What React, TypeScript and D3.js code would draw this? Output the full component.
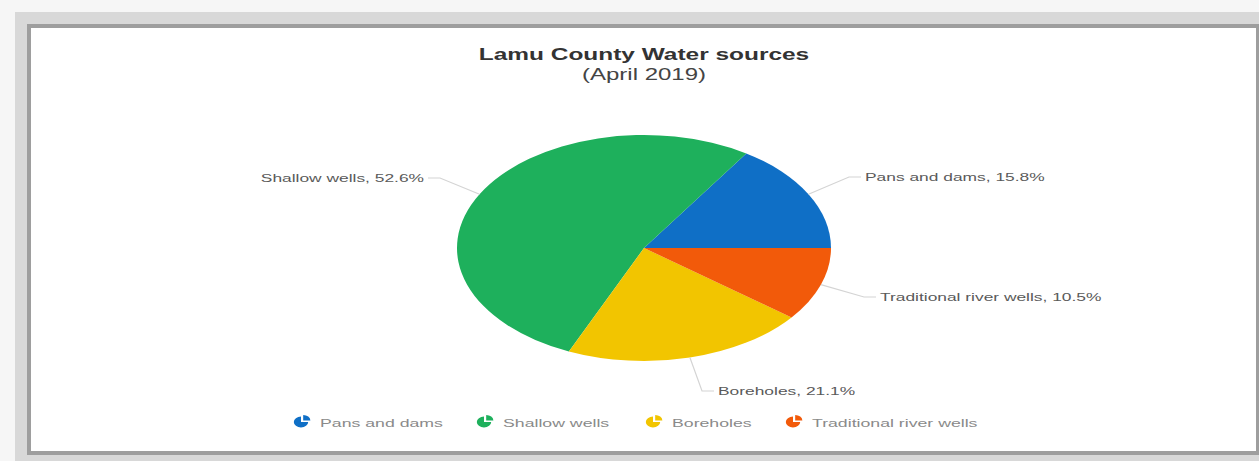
import React from "react";
import * as d3 from "d3";

const categories = ["Pans and dams", "Shallow wells", "Boreholes", "Traditional river wells"];
const counts = [3, 10, 4, 2];
const colors = ["#0f6fc6", "#1eb05c", "#f2c500", "#f25a0a"];
const title = "Lamu County Water sources";
const subtitle = "(April 2019)";

const W = 1259;
const H = 461;
const cx = 644;
const cy = 248;
const rx = 187;
const ry = 113;
const SX = 1.5;
const FONT = "'Liberation Sans', Arial, Helvetica, sans-serif";

// label layout: [x, y, anchor]
const labelPos: [number, number, "start" | "end"][] = [
  [865, 177, "start"],
  [424, 178, "end"],
  [718, 391, "start"],
  [880, 297, "start"],
];
const legendX = [301, 484, 653, 793];
const legendY = 422;

function Stretched({ x, y, anchor, size, weight, fill, children }: any) {
  return (
    <g transform={`translate(${x},${y}) scale(${SX},1)`}>
      <text
        x={0}
        y={0}
        textAnchor={anchor}
        dominantBaseline="central"
        fontSize={size}
        fontWeight={weight}
        fill={fill}
        fontFamily={FONT}
      >
        {children}
      </text>
    </g>
  );
}

export default function App() {
  const total = d3.sum(counts);
  const pie = d3
    .pie<number>()
    .sort(null)
    .startAngle(Math.PI / 2)
    .endAngle(Math.PI / 2 - 2 * Math.PI);
  const arcs = pie(counts);
  const arc = d3.arc<d3.PieArcDatum<number>>().innerRadius(0).outerRadius(rx);
  const k = ry / rx;

  const iconArc = d3.arc<any>().innerRadius(0).outerRadius(6);

  return (
    <svg width={W} height={H} style={{ position: "absolute", left: 0, top: 0 }}>
      <rect x={0} y={0} width={W} height={H} fill="#f6f6f6" />
      <rect x={15} y={12} width={W - 15} height={H - 12} fill="#d8d8d8" />
      <rect x={27} y={24} width={W - 27} height={431} fill="#9e9e9e" />
      <rect x={31} y={28} width={1225} height={423} fill="#ffffff" />

      <Stretched x={cx} y={54} anchor="middle" size={16.3} weight="bold" fill="#333">
        {title}
      </Stretched>
      <Stretched x={cx} y={75} anchor="middle" size={16} weight="normal" fill="#444">
        {subtitle}
      </Stretched>

      <g transform={`translate(${cx},${cy}) scale(1,${k})`}>
        {arcs.map((a, i) => (
          <path key={i} d={arc(a) || ""} fill={colors[i]} />
        ))}
      </g>

      {arcs.map((a, i) => {
        const mid = (a.startAngle + a.endAngle) / 2;
        const ex = cx + rx * Math.sin(mid);
        const ey = cy - ry * Math.cos(mid);
        const [lx, ly, anchor] = labelPos[i];
        const dir = anchor === "start" ? -1 : 1;
        const pts: [number, number][] = [
          [ex, ey],
          [lx + dir * 16, ly],
          [lx + dir * 4, ly],
        ];
        const pct = ((counts[i] / total) * 100).toFixed(1);
        return (
          <g key={i}>
            <path d={d3.line()(pts) || ""} fill="none" stroke="#d4d4d4" strokeWidth={1.2} />
            <Stretched x={lx} y={ly} anchor={anchor} size={11.6} weight="normal" fill="#5a5a5a">
              {`${categories[i]}, ${pct}%`}
            </Stretched>
          </g>
        );
      })}

      {categories.map((c, i) => (
        <g key={c}>
          <g transform={`translate(${legendX[i]},${legendY}) scale(1.2,0.9)`}>
            <path d={iconArc({ startAngle: Math.PI / 2, endAngle: 2 * Math.PI }) || ""} fill={colors[i]} />
            <path
              transform="translate(1.8,-1.8)"
              d={iconArc({ startAngle: 0, endAngle: Math.PI / 2 }) || ""}
              fill={colors[i]}
            />
          </g>
          <Stretched x={legendX[i] + 19} y={legendY + 1} anchor="start" size={11.8} weight="normal" fill="#8a8a8a">
            {c}
          </Stretched>
        </g>
      ))}
    </svg>
  );
}
